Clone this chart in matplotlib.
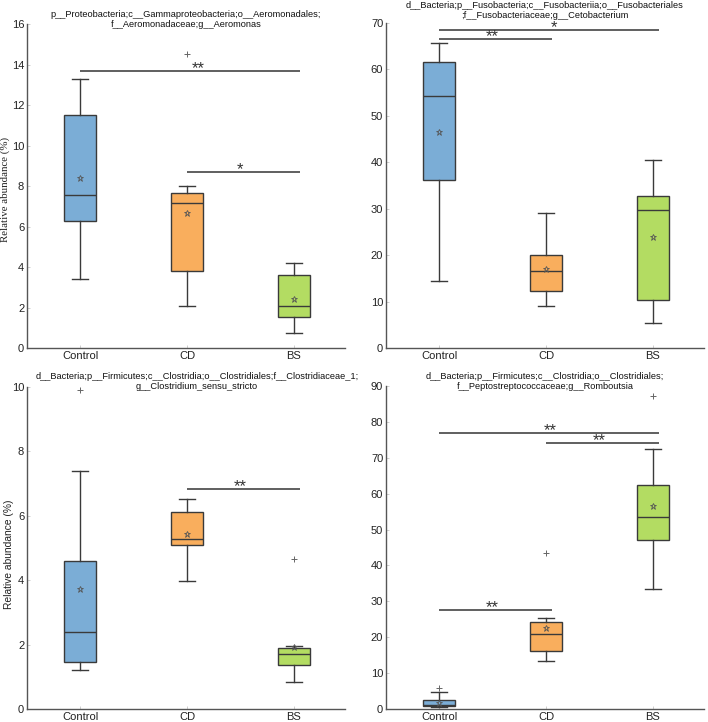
import matplotlib.pyplot as plt
from matplotlib.transforms import offset_copy

groups = ['Control', 'CD', 'BS']
box_colors = ['#7badd6', '#f9ae5d', '#b3dc62']

# panel 1: Aeromonas
aero_title = 'p__Proteobacteria;c__Gammaproteobacteria;o__Aeromonadales;\nf__Aeromonadaceae;g__Aeromonas'
aero_low = [3.4, 2.07, 0.72]
aero_q1 = [6.27, 3.8, 1.55]
aero_med = [7.55, 7.15, 2.05]
aero_q3 = [11.5, 7.65, 3.6]
aero_high = [13.3, 8.0, 4.2]
aero_mean = [8.4, 6.67, 2.4]
aero_fliers = [[], [14.5], []]
# (from group, to group, height, label, label x shift)
aero_sig = [(0, 2, 13.7, '**', 0.1), (1, 2, 8.7, '*', 0.0)]
aero_ticks = [0, 2, 4, 6, 8, 10, 12, 14, 16]

# panel 2: Cetobacterium
ceto_title = 'd__Bacteria;p__Fusobacteria;c__Fusobacteriia;o__Fusobacteriales\n;f__Fusobacteriaceae;g__Cetobacterium'
ceto_low = [14.4, 9.0, 5.4]
ceto_q1 = [36.2, 12.3, 10.4]
ceto_med = [54.3, 16.5, 29.8]
ceto_q3 = [61.6, 20.1, 32.8]
ceto_high = [65.7, 29.0, 40.5]
ceto_mean = [46.5, 17.0, 24.0]
ceto_fliers = [[], [], []]
ceto_sig = [(0, 1, 66.5, '**', 0.0), (0, 2, 68.5, '*', 0.07)]
ceto_ticks = [0, 10, 20, 30, 40, 50, 60, 70]

# panel 3: Clostridium_sensu_stricto
clos_title = 'd__Bacteria;p__Firmicutes;c__Clostridia;o__Clostridiales;f__Clostridiaceae_1;\ng__Clostridium_sensu_stricto'
clos_low = [1.2, 3.97, 0.85]
clos_q1 = [1.45, 5.08, 1.37]
clos_med = [2.38, 5.27, 1.7]
clos_q3 = [4.6, 6.13, 1.88]
clos_high = [7.4, 6.52, 1.95]
clos_mean = [3.72, 5.45, 1.92]
clos_fliers = [[9.9], [], [4.65]]
clos_sig = [(1, 2, 6.82, '**', 0.0)]
clos_ticks = [0, 2, 4, 6, 8, 10]

# panel 4: Romboutsia
romb_title = 'd__Bacteria;p__Firmicutes;c__Clostridia;o__Clostridiales;\nf__Peptostreptococcaceae;g__Romboutsia'
romb_low = [0.6, 13.3, 33.4]
romb_q1 = [0.7, 16.3, 47.0]
romb_med = [1.0, 20.8, 53.4]
romb_q3 = [2.4, 24.2, 62.5]
romb_high = [4.6, 25.3, 72.5]
romb_mean = [1.8, 22.7, 56.5]
romb_fliers = [[5.8], [43.5], [87.2]]
romb_sig = [(0, 2, 77.0, '**', 0.04), (1, 2, 74.0, '**', 0.0), (0, 1, 27.5, '**', 0.0)]
romb_ticks = [0, 10, 20, 30, 40, 50, 60, 70, 80, 90]

panels = [
    (aero_title, aero_low, aero_q1, aero_med, aero_q3, aero_high, aero_mean, aero_fliers, aero_sig, aero_ticks),
    (ceto_title, ceto_low, ceto_q1, ceto_med, ceto_q3, ceto_high, ceto_mean, ceto_fliers, ceto_sig, ceto_ticks),
    (clos_title, clos_low, clos_q1, clos_med, clos_q3, clos_high, clos_mean, clos_fliers, clos_sig, clos_ticks),
    (romb_title, romb_low, romb_q1, romb_med, romb_q3, romb_high, romb_mean, romb_fliers, romb_sig, romb_ticks),
]

plt.rcParams['font.family'] = ['Liberation Sans', 'DejaVu Sans']

fig = plt.figure(figsize=(7.08, 7.22), dpi=100)
W, H = 708, 722
# axes boxes in pixels: left, top, right, bottom
boxes = [(27, 24, 345, 348), (386, 23, 704, 348), (27, 387, 345, 709), (386, 386, 704, 709)]
title_y = [1.043, 1.068, 1.047, 1.043]
title_x = [0.5, 0.5, 0.535, 0.5]
line_col = '#3a3a3a'

for k, (title, low, q1, med, q3, high, mean, fliers, sig, ticks) in enumerate(panels):
    l, t, r, b = boxes[k]
    ax = fig.add_axes([l / W, 1 - b / H, (r - l) / W, (b - t) / H])
    stats = []
    for i in range(3):
        stats.append({'whislo': low[i], 'q1': q1[i], 'med': med[i], 'q3': q3[i],
                      'whishi': high[i], 'mean': mean[i], 'fliers': fliers[i], 'label': groups[i]})
    bp = ax.bxp(stats, positions=[1, 2, 3], widths=0.3, patch_artist=True, showmeans=True,
                boxprops=dict(linewidth=1.0, edgecolor=line_col),
                whiskerprops=dict(linewidth=1.0, color=line_col),
                capprops=dict(linewidth=1.0, color=line_col),
                medianprops=dict(linewidth=1.0, color=line_col),
                meanprops=dict(marker='*', markersize=5, markerfacecolor='none',
                               markeredgecolor='#555555', markeredgewidth=0.6),
                flierprops=dict(marker='+', markersize=5, markeredgecolor='#666666',
                                markeredgewidth=0.7))
    for patch, c in zip(bp['boxes'], box_colors):
        patch.set_facecolor(c)

    ymax = ticks[-1]
    ax.set_xlim(0.5, 3.48)
    ax.set_ylim(0, ymax)
    ax.set_yticks(ticks)
    ax.set_xticks([1, 2, 3])
    ax.set_xticklabels(groups)
    ax.tick_params(axis='both', direction='in', length=2, width=0.5, color='#bbbbbb',
                   labelsize=8, labelcolor='#222222', pad=2)
    for s in ['top', 'right']:
        ax.spines[s].set_visible(False)
    for s in ['left', 'bottom']:
        ax.spines[s].set_color('#555555')
        ax.spines[s].set_linewidth(1.0)

    star_tr = offset_copy(ax.transData, fig=fig, x=0, y=-1.5, units='points')
    for i, j, yv, lab, dx in sig:
        ax.plot([i + 1, j + 1.06], [yv, yv], color='#444444', linewidth=1.2, solid_capstyle='butt')
        ax.text((i + j) / 2 + 1 + dx, yv, lab, ha='center', va='baseline',
                fontsize=12, color='#333333', transform=star_tr)

    ax.text(title_x[k], title_y[k], title, transform=ax.transAxes, ha='center', va='top',
            fontsize=6.7, linespacing=1.1, color='#111111')

    if k == 0:
        ax.set_ylabel('Relative abundance (%)', fontsize=7.8, family=['Liberation Serif'],
                      color='#222222')
        ax.yaxis.set_label_coords(-0.053, 0.49)
    elif k == 2:
        ax.set_ylabel('Relative abundance (%)', fontsize=7.4, color='#222222')
        ax.yaxis.set_label_coords(-0.041, 0.48)

fig.savefig('out.png', dpi=100)
